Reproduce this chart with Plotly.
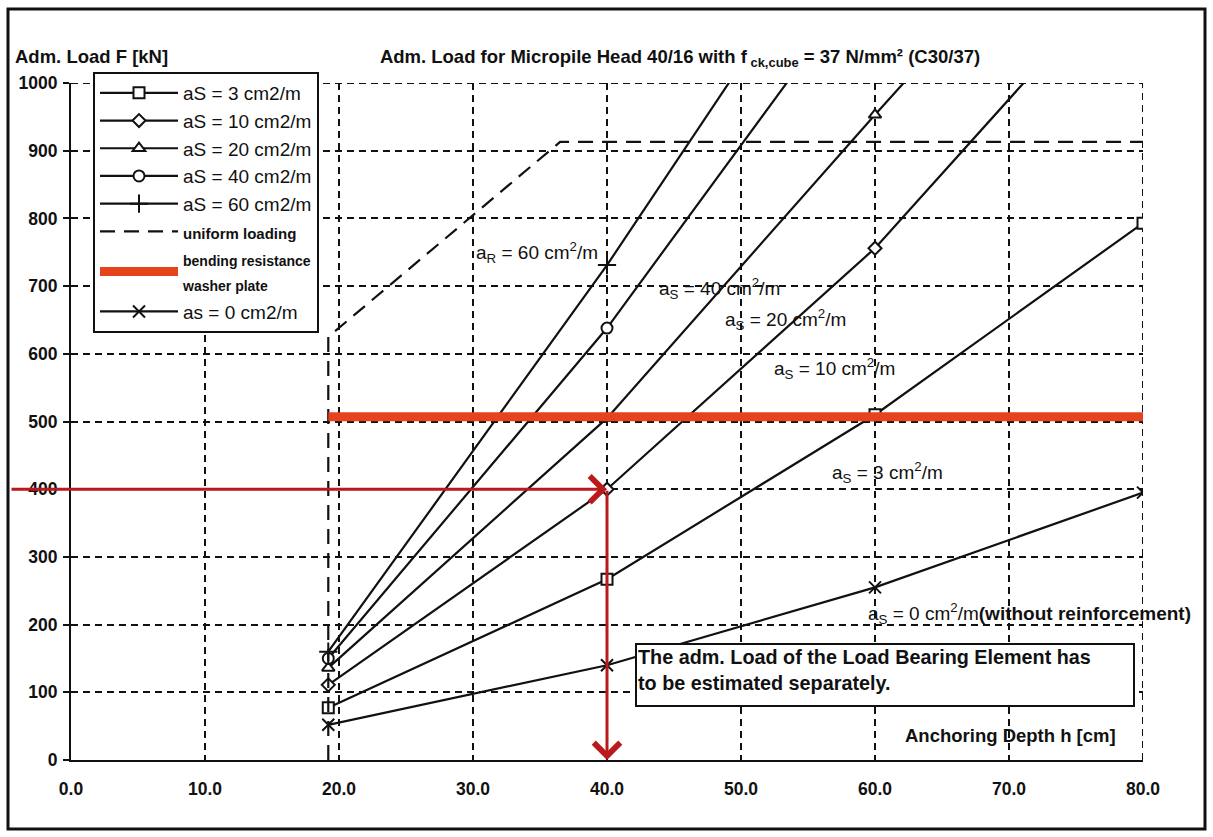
import plotly.graph_objects as go

# ---- data ----
depth = [19.2, 40, 60, 80]
as0 = [52, 140, 255, 395]
as3 = [77, 267, 510, 793]
as10 = [111, 400, 756, 1196]
as20 = [136, 505, 953, 1393]
depth_hi = [19.2, 40, 60]
as40 = [150, 638, 1178]
as60 = [160, 731, 1323]

uniform_x = [19.2, 19.2, 36.5, 80]
uniform_y = [0, 625, 913, 913]
bend_x = [19.2, 80]
bend_y = [507, 507]

arrow_depth = 40
arrow_load = 400

x_ticks = [0, 10, 20, 30, 40, 50, 60, 70, 80]
x_ticktext = ["0.0", "10.0", "20.0", "30.0", "40.0", "50.0", "60.0", "70.0", "80.0"]
y_ticks = [0, 100, 200, 300, 400, 500, 600, 700, 800, 900, 1000]

line_labels = [
    ("a<sub>R</sub> = 60 cm<sup>2</sup>/m", 34.8, 750),
    ("a<sub>S</sub> = 40 cm<sup>2</sup>/m", 48.4, 697),
    ("a<sub>S</sub> = 20 cm<sup>2</sup>/m", 53.3, 650),
    ("a<sub>S</sub> = 10 cm<sup>2</sup>/m", 57.0, 579),
    ("a<sub>S</sub> = 3 cm<sup>2</sup>/m", 60.9, 425),
]

# ---- layout geometry (pixels) ----
W, H = 1213, 837
L, R, T, B = 71, 70, 83, 77
PW, PH = W - L - R, H - T - B


def px(x):
    return (x - L) / PW


def py(y):
    return (H - B - y) / PH


FONT = "Liberation Sans, Arial, sans-serif"
BLACK = "#111111"

fig = go.Figure()


def series(x, y, name, symbol, size, rank, fill="white"):
    thin = symbol.endswith("thin")
    fig.add_trace(go.Scatter(
        x=x, y=y, name=name, mode="lines+markers",
        line=dict(color=BLACK, width=2.2),
        marker=dict(symbol=symbol, size=size, color=BLACK if thin else fill,
                    line=dict(color=BLACK, width=2)),
        legendrank=rank, legendgroup=name,
    ))


series(depth, as3, "aS = 3 cm2/m", "square", 11, 1)
series(depth, as10, "aS = 10 cm2/m", "diamond", 10, 2)
series(depth, as20, "aS = 20 cm2/m", "triangle-up", 11, 3)
series(depth_hi, as40, "aS = 40 cm2/m", "circle", 11, 4)
series(depth_hi, as60, "aS = 60 cm2/m", "cross-thin", 13, 5)
series(depth, as0, "as = 0 cm2/m", "x-thin", 12, 8)

fig.add_trace(go.Scatter(
    x=uniform_x, y=uniform_y, mode="lines",
    name="<span style='font-size:15px'><b>uniform loading</b></span>",
    line=dict(color=BLACK, width=2.2, dash="15px,9px"),
    legendrank=6, legendgroup="u",
))
fig.add_trace(go.Scatter(
    x=bend_x, y=bend_y, mode="lines",
    name="<span style='font-size:14px'><b>bending resistance<br>washer plate</b></span>",
    line=dict(color="#e4431d", width=9),
    legendrank=7, legendgroup="b",
))

annotations = []
# red arrows
annotations.append(dict(
    x=arrow_depth, y=arrow_load, xref="x", yref="y",
    ax=(10 - L) / PW * 80, ay=arrow_load, axref="x", ayref="y",
    showarrow=True, arrowhead=4, arrowsize=1.7, arrowwidth=3,
    arrowcolor="#bb1a1c", text="",
))
annotations.append(dict(
    x=arrow_depth, y=0, xref="x", yref="y",
    ax=arrow_depth, ay=arrow_load, axref="x", ayref="y",
    showarrow=True, arrowhead=4, arrowsize=1.7, arrowwidth=3,
    arrowcolor="#bb1a1c", text="",
))

for txt, lx, ly in line_labels:
    annotations.append(dict(x=lx, y=ly, xref="x", yref="y", text=txt,
                            xanchor="center", yanchor="middle",
                            showarrow=False, font=dict(family=FONT, size=19, color=BLACK)))

annotations.append(dict(
    x=59.3, y=217, xref="x", yref="y", xanchor="left", yanchor="middle",
    text="a<sub>S</sub> = 0 cm<sup>2</sup>/m<b>(without reinforcement)</b>",
    showarrow=False, font=dict(family=FONT, size=19, color=BLACK)))

annotations.append(dict(
    x=px(635), y=py(643), xref="paper", yref="paper", xanchor="left", yanchor="top",
    text="<b>The adm. Load of the Load Bearing Element has<br>to be estimated separately.</b>",
    showarrow=False, align="left", valign="top", width=494, height=58,
    bgcolor="white", bordercolor=BLACK, borderwidth=2, borderpad=1,
    font=dict(family=FONT, size=19.8, color=BLACK)))

annotations.append(dict(
    x=px(1010), y=py(735), xref="paper", yref="paper", xanchor="center", yanchor="middle",
    text="<b>Anchoring Depth h [cm]</b>", showarrow=False,
    font=dict(family=FONT, size=18.5, color=BLACK)))

annotations.append(dict(
    x=px(13), y=py(57), xref="paper", yref="paper", xanchor="left", yanchor="middle",
    text="<b>Adm. Load F [kN]</b>", showarrow=False,
    font=dict(family=FONT, size=18.5, color=BLACK)))

grid_dash = "7px,5px"
fig.update_layout(
    width=W, height=H,
    margin=dict(l=L, r=R, t=T, b=B, pad=0),
    paper_bgcolor="white", plot_bgcolor="white",
    font=dict(family=FONT, size=14, color=BLACK),
    title=dict(
        text="<b>Adm. Load for Micropile Head 40/16 with f<sub> ck,cube</sub> = 37 N/mm² (C30/37)</b>",
        x=680 / W, xanchor="center", y=1 - 57 / H, yanchor="middle", xref="container", yref="container",
        font=dict(family=FONT, size=18.5, color=BLACK)),
    showlegend=True,
    legend=dict(
        x=px(93), y=py(72), xanchor="left", yanchor="top",
        bgcolor="white", bordercolor=BLACK, borderwidth=2,
        font=dict(family=FONT, size=19, color=BLACK),
        itemwidth=78, tracegroupgap=3, traceorder="normal",
        itemclick=False,
    ),
    annotations=annotations,
    shapes=[
        dict(type="rect", xref="paper", yref="paper",
             x0=px(8), x1=px(1205), y0=py(829), y1=py(9),
             line=dict(color=BLACK, width=3)),
        dict(type="line", xref="x", yref="y", x0=0, x1=80, y0=1000, y1=1000,
             line=dict(color=BLACK, width=2, dash=grid_dash), layer="below"),
        dict(type="line", xref="x", yref="y", x0=80, x1=80, y0=0, y1=1000,
             line=dict(color=BLACK, width=2, dash=grid_dash), layer="below"),
    ],
)

fig.update_xaxes(
    range=[0, 80], tickvals=x_ticks, ticktext=x_ticktext,
    showgrid=True, gridcolor=BLACK, gridwidth=2, griddash=grid_dash,
    showline=True, linecolor=BLACK, linewidth=2, zeroline=False,
    ticks="", ticklabelstandoff=12,
    tickfont=dict(family=FONT, size=17.5, color=BLACK, weight="bold"),
)
fig.update_yaxes(
    range=[0, 1000], tickvals=y_ticks,
    showgrid=True, gridcolor=BLACK, gridwidth=2, griddash=grid_dash,
    showline=True, linecolor=BLACK, linewidth=2, zeroline=False,
    ticks="outside", ticklen=6, tickwidth=2, tickcolor=BLACK, ticklabelstandoff=2,
    tickfont=dict(family=FONT, size=17.5, color=BLACK, weight="bold"),
)

fig.write_html("out.html")
